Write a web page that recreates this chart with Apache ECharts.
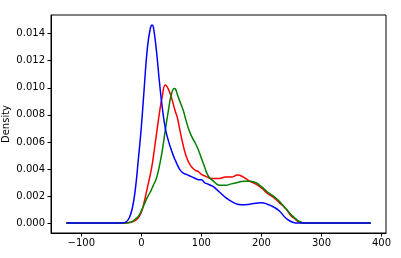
<!DOCTYPE html>
<html>
<head>
<meta charset="utf-8">
<script src="https://cdn.jsdelivr.net/npm/echarts@6/dist/echarts.min.js"></script>
<style>html,body{margin:0;padding:0;background:#fff}#c{width:401px;height:258px}</style>
</head>
<body>
<div id="c"></div>
<script>
const xs = [-125, -40, -30, -25, -20, -15, -10, -5, 0, 5, 10, 15, 18, 20, 25, 30, 35, 40, 45, 50, 55, 57, 60, 65, 70, 75, 80, 85, 90, 95, 100, 105, 110, 115, 120, 125, 130, 140, 150, 160, 170, 180, 190, 200, 210, 220, 230, 240, 250, 255, 260, 265, 270, 280, 382];
const blueVals = [0, 0, 0.00002, 0.0001, 0.0004, 0.0011, 0.0025, 0.0047, 0.0071, 0.0101, 0.0129, 0.0144, 0.01465, 0.0145, 0.0128, 0.0105, 0.0085, 0.007, 0.0061, 0.0054, 0.0048, 0.0046, 0.0043, 0.0039, 0.0037, 0.0036, 0.0035, 0.0034, 0.0033, 0.0032, 0.0032, 0.003, 0.0029, 0.0028, 0.0027, 0.0025, 0.0023, 0.0019, 0.0016, 0.0014, 0.00135, 0.0014, 0.00146, 0.0015, 0.0014, 0.0012, 0.0009, 0.0004, 0.0001, 0.00003, 0.00001, 0, 0, 0, 0];
const redVals = [0, 0, 0, 0.00001, 0.00004, 0.0001, 0.0002, 0.0004, 0.0008, 0.0016, 0.0026, 0.0036, 0.0043, 0.0049, 0.0065, 0.0081, 0.0094, 0.0102, 0.0099, 0.0093, 0.0085, 0.0082, 0.0078, 0.0067, 0.0057, 0.0049, 0.0044, 0.0041, 0.0039, 0.0038, 0.0036, 0.0035, 0.0034, 0.0033, 0.0033, 0.0033, 0.0033, 0.0034, 0.0034, 0.00355, 0.0034, 0.0031, 0.0029, 0.0026, 0.0022, 0.0019, 0.0015, 0.0011, 0.0005, 0.00035, 0.00015, 0.00005, 0.00001, 0, 0];
const greenVals = [0, 0, 0, 0.00002, 0.00005, 0.00012, 0.0003, 0.0005, 0.0009, 0.0014, 0.0019, 0.0023, 0.0026, 0.0028, 0.0033, 0.0042, 0.0054, 0.0069, 0.0083, 0.0095, 0.00995, 0.0099, 0.0095, 0.0089, 0.0083, 0.0075, 0.0068, 0.0063, 0.0059, 0.0054, 0.0048, 0.0042, 0.0036, 0.0033, 0.0031, 0.0029, 0.0028, 0.0028, 0.0029, 0.003, 0.0031, 0.0031, 0.003, 0.0027, 0.0023, 0.002, 0.0016, 0.0011, 0.0006, 0.0004, 0.0002, 0.0001, 0.00002, 0, 0];
const xTicks = [-100, 0, 100, 200, 300, 400];
const yTicks = [0, 0.002, 0.004, 0.006, 0.008, 0.010, 0.012, 0.014];
const yName = 'Density';

const pairs = v => xs.map((x, i) => [x, v[i]]);
const font = 'DejaVu Sans';
const chart = echarts.init(document.getElementById('c'), null, {renderer: 'canvas'});
const mkSeries = (name, vals, color) => ({
  name, type: 'line', data: pairs(vals), showSymbol: false, smooth: 0.5,
  lineStyle: {color, width: 1.5}, itemStyle: {color}, animation: false
});
chart.setOption({
  animation: false,
  grid: {left: 51, top: 15, right: 15, bottom: 25, show: true, borderColor: '#000', borderWidth: 1, containLabel: false, outerBoundsMode: 'none'},
  xAxis: {
    type: 'value', min: -150.4, max: 407.4,
    axisLine: {show: true, onZero: false, lineStyle: {color: '#000', width: 1}},
    axisTick: {show: true, inside: false, length: 3.5, lineStyle: {color: '#000'}, customValues: xTicks},
    axisLabel: {show: true, color: '#000', fontFamily: font, fontSize: 10, margin: 5, customValues: xTicks,
      formatter: v => (v < 0 ? '\u2212' + Math.abs(v) : String(v))},
    splitLine: {show: false}
  },
  yAxis: {
    type: 'value', min: -0.00073, max: 0.01538,
    name: yName, nameLocation: 'middle', nameGap: 40, nameRotate: 90, nameMoveOverlap: false,
    nameTextStyle: {color: '#000', fontFamily: font, fontSize: 10},
    axisLine: {show: true, onZero: false, lineStyle: {color: '#000', width: 1}},
    axisTick: {show: true, inside: false, length: 3.5, lineStyle: {color: '#000'}, customValues: yTicks},
    axisLabel: {show: true, color: '#000', fontFamily: font, fontSize: 10, margin: 6, customValues: yTicks,
      formatter: v => v.toFixed(3)},
    splitLine: {show: false}
  },
  series: [
    mkSeries('red', redVals, '#ff0000'),
    mkSeries('green', greenVals, '#008000'),
    mkSeries('blue', blueVals, '#0000ff')
  ]
});
</script>
</body>
</html>
